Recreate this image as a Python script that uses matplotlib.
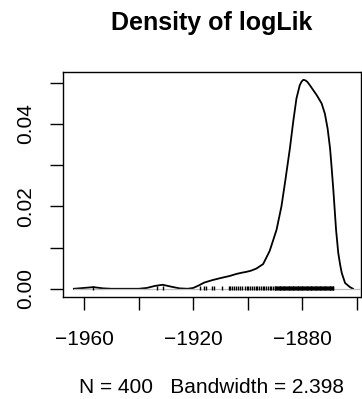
import matplotlib
matplotlib.use("Agg")
import matplotlib.pyplot as plt

# density curve
dens_x = [-1963.7, -1960.0, -1956.6, -1953.0, -1950.0, -1945.0, -1940.0, -1937.0,
          -1934.0, -1931.2, -1928.0, -1925.0, -1922.0, -1920.0, -1918.0, -1916.0,
          -1913.0, -1910.0, -1906.7, -1904.2, -1902.2, -1900.6, -1898.8, -1896.9,
          -1894.4, -1892.0, -1889.5, -1887.7, -1886.3, -1884.6, -1883.4, -1882.2,
          -1881.0, -1880.3, -1879.7, -1879.0, -1878.2, -1877.3, -1874.8, -1873.0,
          -1871.8, -1870.8, -1869.9, -1869.3, -1868.7, -1867.7, -1866.9, -1866.2,
          -1865.6, -1864.4, -1862.6, -1861.5]
dens_y = [0.0000, 0.0002, 0.0004, 0.0001, 0.0000, 0.0000, 0.0000, 0.0002,
          0.0007, 0.00097, 0.0005, 0.0001, 0.0000, 0.0002, 0.0008, 0.0015,
          0.0021, 0.0026, 0.0031, 0.0036, 0.0039, 0.0041, 0.0044, 0.0049,
          0.0060, 0.0092, 0.0143, 0.0200, 0.0262, 0.0341, 0.0405, 0.0462,
          0.0494, 0.0503, 0.0507, 0.0506, 0.0502, 0.0494, 0.0470, 0.0450,
          0.0425, 0.0389, 0.0341, 0.0292, 0.0240, 0.0143, 0.0087, 0.0058,
          0.0038, 0.0014, 0.0004, 0.0000]

# rug observations (estimated)
rug_x = [-1956.6, -1933.3, -1931.0,
         -1917.5, -1916.0, -1915.2, -1913.0, -1912.3, -1909.5, -1907.0, -1906.5,
         -1905.8, -1905.2, -1904.5, -1903.6, -1902.8, -1902.2, -1901.0, -1900.4,
         -1899.9, -1899.2, -1898.6, -1897.8, -1897.2, -1896.6, -1895.8, -1895.2,
         -1894.6, -1894.0, -1893.2, -1892.6, -1892.0, -1891.4, -1890.8,
         -1890.2, -1889.9, -1889.6, -1889.3, -1889.0, -1888.7, -1888.4, -1888.1,
         -1887.8, -1887.5, -1887.2, -1886.9, -1886.6, -1886.3, -1886.0, -1885.7,
         -1885.4, -1885.1, -1884.8, -1884.5, -1884.2, -1883.9, -1883.6, -1883.3,
         -1883.0, -1882.7, -1882.4, -1882.1, -1881.8, -1881.5, -1881.2, -1880.9,
         -1880.6, -1880.3, -1880.0, -1879.7, -1879.4, -1879.1, -1878.8, -1878.5,
         -1878.2, -1877.9, -1877.6, -1877.3, -1877.0, -1876.7, -1876.4, -1876.1,
         -1875.8, -1875.5, -1875.2, -1874.9, -1874.6, -1874.3, -1874.0, -1873.7,
         -1873.4, -1873.1, -1872.8, -1872.5, -1872.2, -1871.9, -1871.6, -1871.3,
         -1871.0, -1870.7, -1870.4, -1870.1, -1869.8, -1869.5, -1869.2, -1868.9,
         -1868.7]

title = "Density of logLik"
subtitle = "N = 400   Bandwidth = 2.398"
xticks = [-1960, -1940, -1920, -1900, -1880, -1860]
xticklabels = ["\u22121960", "", "\u22121920", "", "\u22121880", ""]
yticks = [0.00, 0.01, 0.02, 0.03, 0.04, 0.05]
yticklabels = ["0.00", "", "0.02", "", "0.04", ""]

plt.rcParams['font.family'] = ['Liberation Sans', 'DejaVu Sans']

fig = plt.figure(figsize=(3.62, 3.99), dpi=100)
ax = fig.add_axes([0.174, 0.2556, 0.823, 0.5639])

ax.plot(dens_x, dens_y, color="black", lw=1.3, zorder=2,
        solid_joinstyle="round")
ax.plot([dens_x[0], -1858.6], [0, 0], color="#BEBEBE", lw=0.9, zorder=3)
ax.plot(rug_x, [0.0001] * len(rug_x), linestyle="none", marker="|",
        markersize=3.2, markeredgewidth=1.0, color="black", zorder=4)

ax.set_xlim(-1967.7, -1858.6)
ax.set_ylim(-0.0020, 0.0526)

ax.set_xticks(xticks)
ax.set_xticklabels(xticklabels)
ax.set_yticks(yticks)
ax.set_yticklabels(yticklabels, rotation=90, va="center")

ax.tick_params(axis="both", direction="out", length=9.4, width=1.0,
               labelsize=15, color="black")
ax.tick_params(axis="x", pad=14)
ax.tick_params(axis="y", pad=11)
for s in ax.spines.values():
    s.set_linewidth(1.0)

ax.set_title(title, fontsize=18, fontweight="bold", pad=30)
ax.set_xlabel(subtitle, fontsize=15, labelpad=21)

fig.savefig("out.png", dpi=100)
